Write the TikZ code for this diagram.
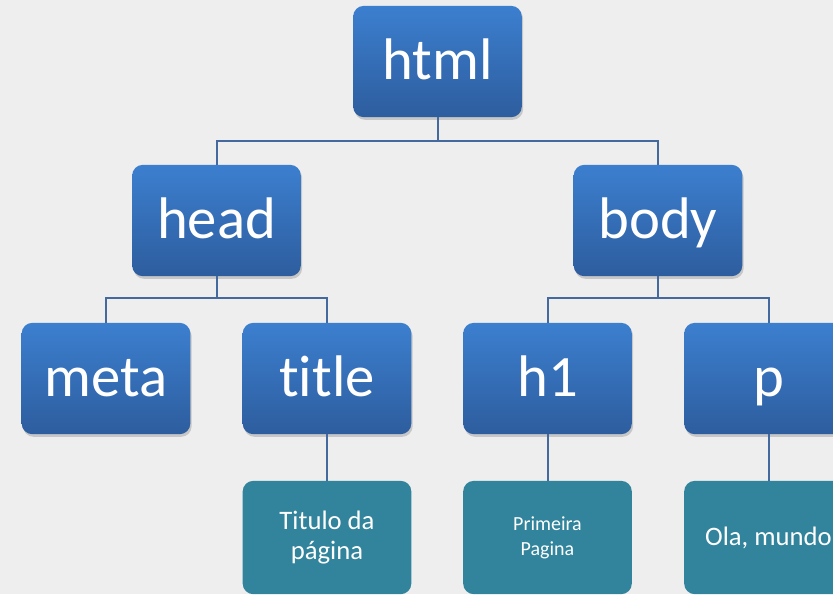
\documentclass[tikz,border=0pt]{standalone}
\usepackage{fontspec}
\setmainfont{Carlito}[Ligatures=NoCommon]
\usetikzlibrary{shadows}
\definecolor{bluetop}{HTML}{3C7FCF}
\definecolor{bluebot}{HTML}{2D5D9E}
\definecolor{tealbox}{HTML}{31849B}
\definecolor{linkcol}{HTML}{44699E}
\definecolor{backgr}{HTML}{EEEEEE}
\begin{document}
\begin{tikzpicture}[x=0.75pt,y=-0.75pt,
    tag/.style={rectangle,rounded corners=8pt,minimum width=126.5pt,minimum height=83.5pt,
        top color=bluetop,bottom color=bluebot,draw=none,text=white,font=\fontsize{44}{48}\selectfont,
        text height=35.5pt,text depth=9pt,
        drop shadow={opacity=0.35,shadow xshift=1pt,shadow yshift=-2pt}},
    txt/.style={rectangle,rounded corners=8pt,minimum width=126.5pt,minimum height=85pt,
        fill=tealbox,text=white,align=center,font=\fontsize{20}{22}\selectfont},
    link/.style={draw=linkcol,line width=1.5pt}]
        \useasboundingbox (0,0) rectangle (833,594);
        \fill[backgr] (0,0) rectangle (833,594);
        \clip (0,0) rectangle (833,594);
        % elements
        \node[tag] (html) at (437.5,61.5){html};
        \node[tag] (head) at (216.5,220.5){head};
        \node[tag] (body) at (658,220.5){body};
        \node[tag] (meta) at (106,378.5){meta};
        \node[tag] (title) at (327,378.5){title};
        \node[tag] (h1) at (547.5,378.5){h1};
        \node[tag] (p) at (768.5,378.5){p};
        % contents
        \node[txt] (titulo) at (327,537.5){Titulo da\\página};
        \node[txt,font=\fontsize{15}{19}\selectfont] (primeira) at (547.5,537.5){Primeira\\Pagina};
        \node[txt] (ola) at (768.5,537.5){Ola, mundo};
        % tree lines
        \draw[link] (html.south) -- ++(0,24) -| (head.north);
        \draw[link] (html.south) -- ++(0,24) -| (body.north);
        \draw[link] (head.south) -- ++(0,22) -| (meta.north);
        \draw[link] (head.south) -- ++(0,22) -| (title.north);
        \draw[link] (body.south) -- ++(0,22) -| (h1.north);
        \draw[link] (body.south) -- ++(0,22) -| (p.north);
        \draw[link] (title) -- (titulo);
        \draw[link] (h1) -- (primeira);
        \draw[link] (p) -- (ola);
    \end{tikzpicture}
\end{document}
